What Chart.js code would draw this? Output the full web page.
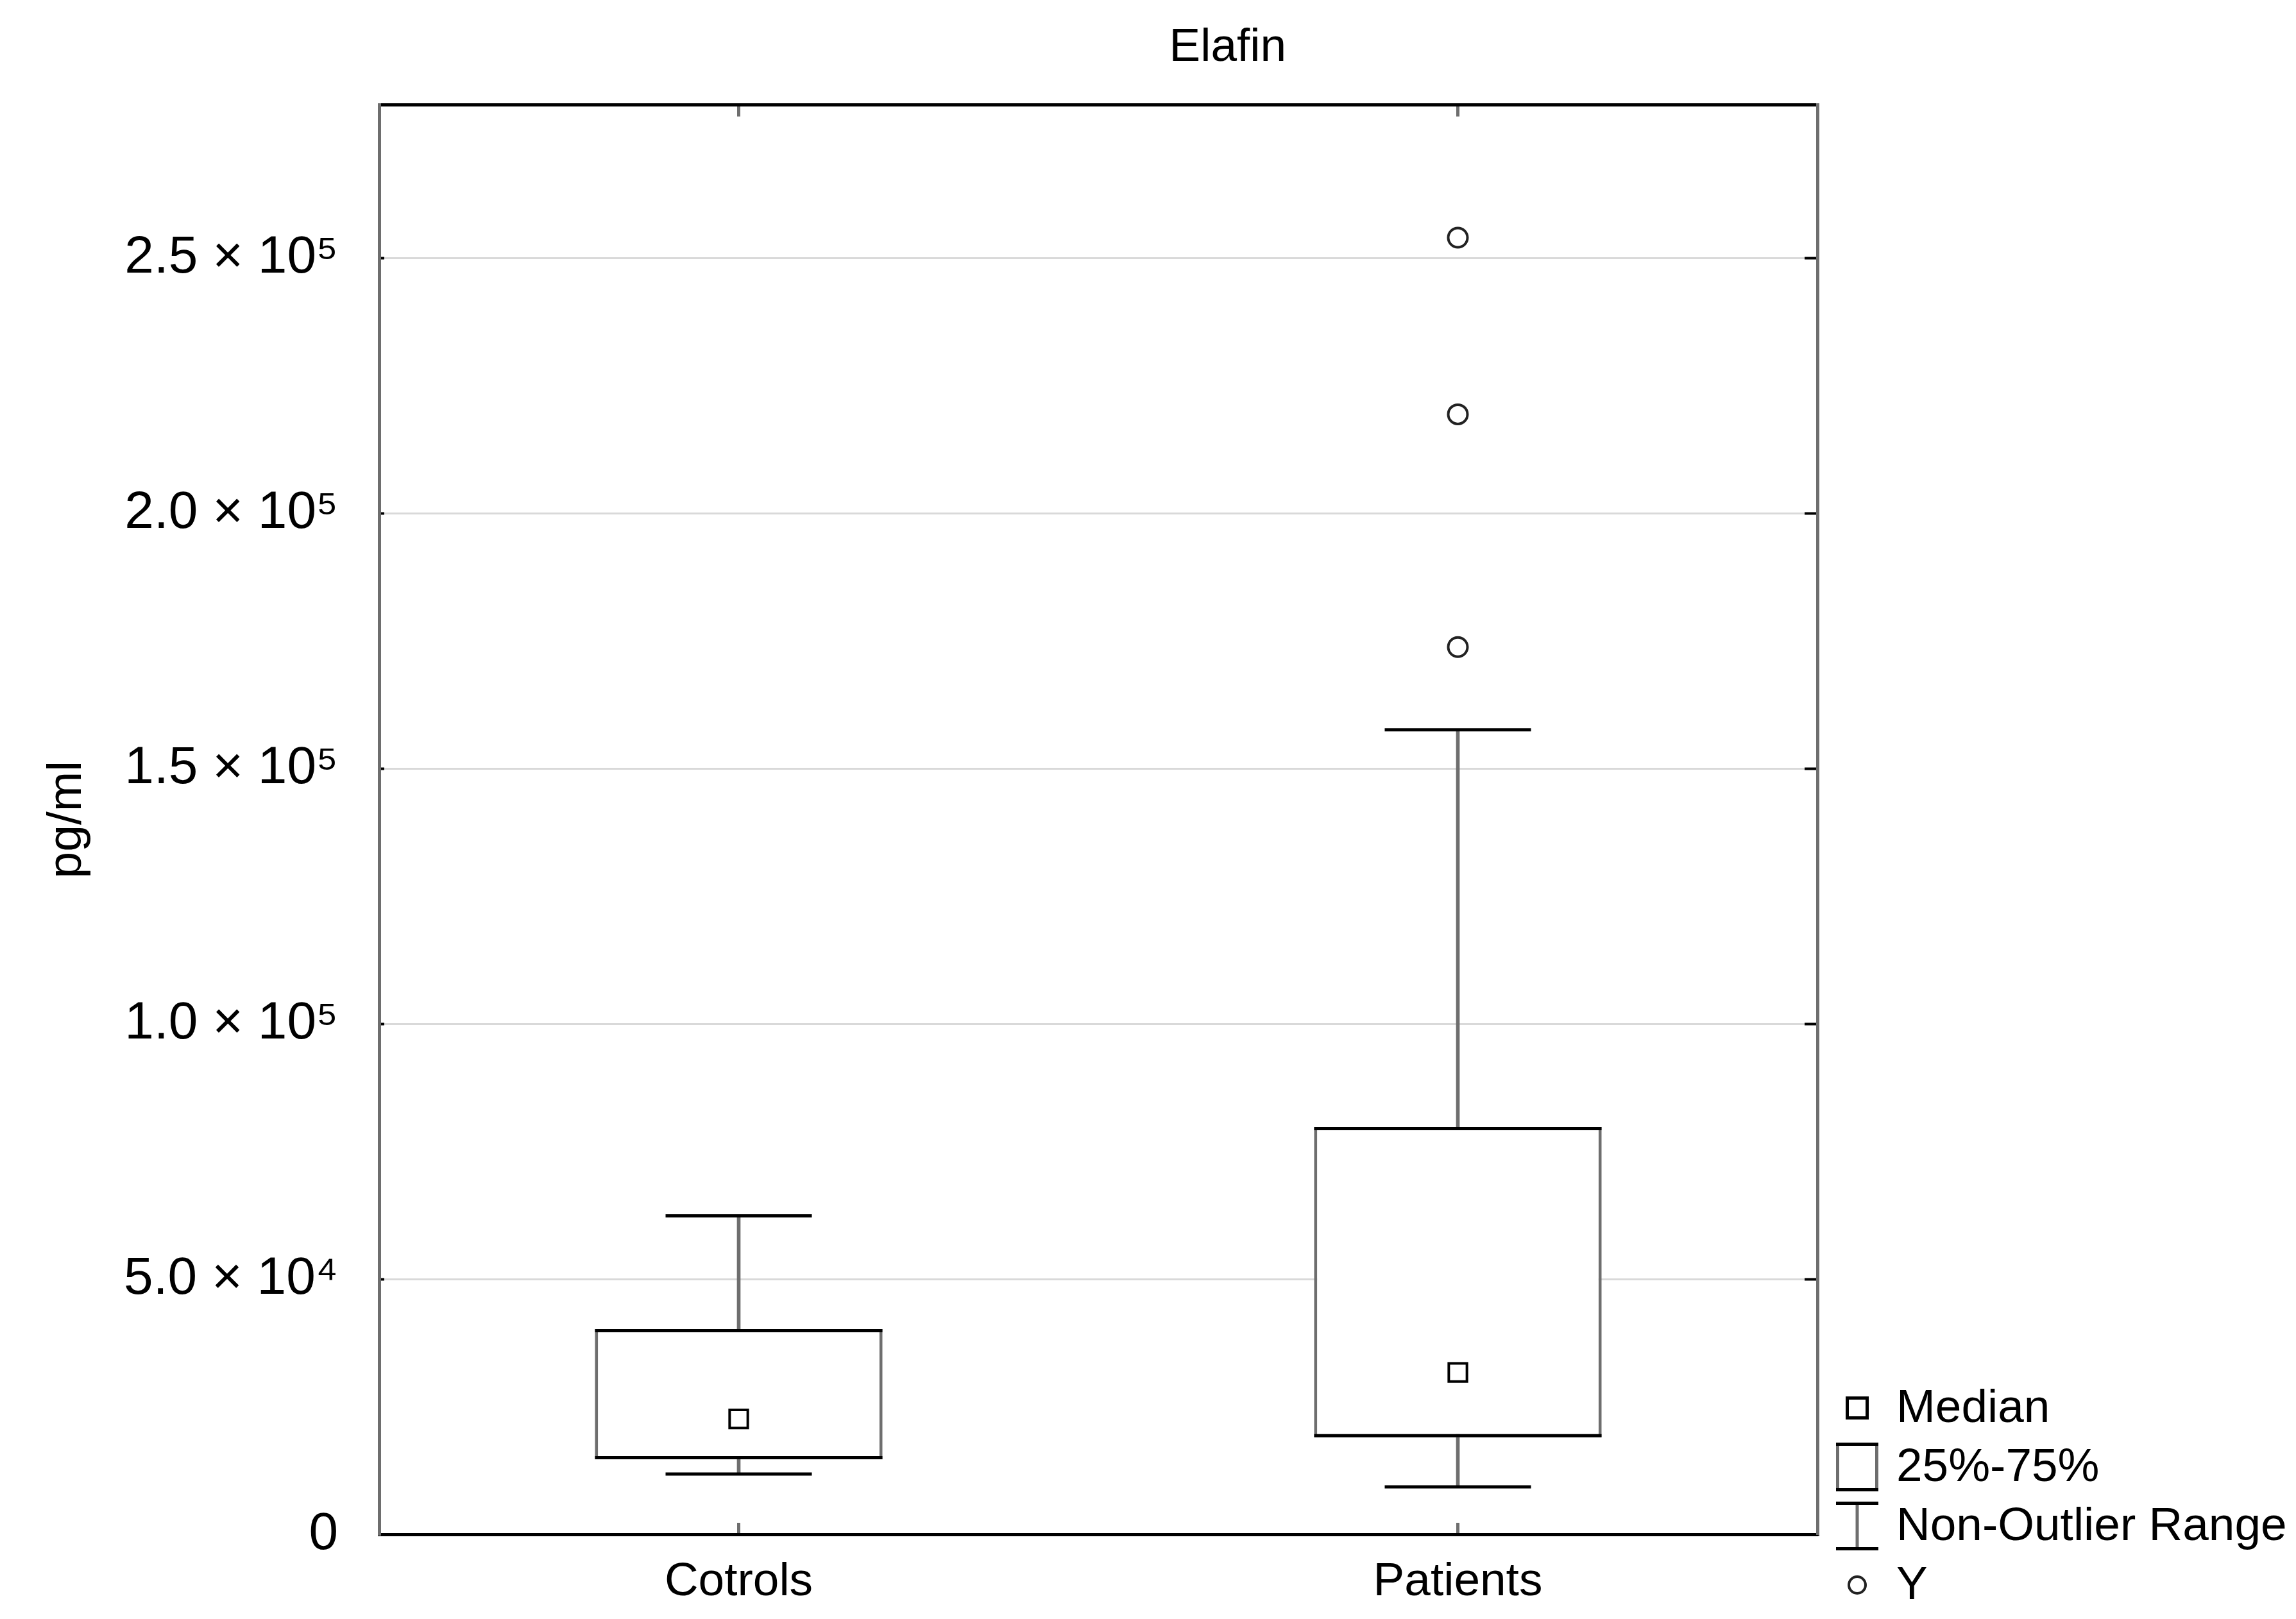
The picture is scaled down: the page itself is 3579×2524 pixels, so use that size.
<!DOCTYPE html>
<html>
<head>
<meta charset="utf-8">
<title>Elafin</title>
<script src="https://cdn.jsdelivr.net/npm/chart.js@4.4.1/dist/chart.umd.min.js"></script>
<style>
  html, body { margin: 0; padding: 0; background: #fff; }
  canvas { display: block; }
</style>
</head>
<body>
<canvas id="chart" width="3579" height="2524"></canvas>
<script>
// values
const categories = ['Cotrols', 'Patients'];
const quartile1 = [14700, 19000];
const quartile3 = [40200, 79800];
const medians = [22600, 31700];
const whiskerLow = [11800, 9300];
const whiskerHigh = [62400, 157600];
const outlierGroup = 'Patients';
const outlierValues = [254000, 219400, 173800];

const yMax = 280000;
const yTickValues = [0, 50000, 100000, 150000, 200000, 250000];
const yTickLabels = ['0', '5.0 × 10⁴', '1.0 × 10⁵', '1.5 × 10⁵', '2.0 × 10⁵', '2.5 × 10⁵'];
const legendNames = ['Median', '25%-75%', 'Non-Outlier Range', 'Y'];

const GREY = '#6e6e6e';
const FONT = '"Liberation Sans", Arial, sans-serif';
Chart.defaults.font.family = FONT;
Chart.defaults.color = '#000';

// little canvases used as legend symbols
function symbol(w, h, draw) {
  const c = document.createElement('canvas');
  c.width = w; c.height = h;
  draw(c.getContext('2d'));
  return c;
}
const legendSymbols = [
  symbol(40, 40, g => { g.lineWidth = 5; g.strokeStyle = '#000'; g.strokeRect(4.5, 4.5, 31, 31); }),
  symbol(70, 80, g => {
    g.lineWidth = 5;
    g.strokeStyle = GREY;
    g.beginPath(); g.moveTo(4.5, 2); g.lineTo(4.5, 78); g.moveTo(65.5, 2); g.lineTo(65.5, 78); g.stroke();
    g.strokeStyle = '#000';
    g.beginPath(); g.moveTo(2, 4.5); g.lineTo(68, 4.5); g.moveTo(2, 75.5); g.lineTo(68, 75.5); g.stroke();
  }),
  symbol(70, 80, g => {
    g.lineWidth = 5;
    g.strokeStyle = GREY;
    g.beginPath(); g.moveTo(35, 4); g.lineTo(35, 76); g.stroke();
    g.strokeStyle = '#000';
    g.beginPath(); g.moveTo(2, 4.5); g.lineTo(68, 4.5); g.moveTo(2, 75.5); g.lineTo(68, 75.5); g.stroke();
  }),
  symbol(40, 40, g => { g.lineWidth = 4; g.strokeStyle = '#222'; g.beginPath(); g.arc(20, 20, 13, 0, Math.PI * 2); g.stroke(); })
];

const boxes = categories.map((c, i) => [quartile1[i], quartile3[i]]);
const stems = categories.map((c, i) => [whiskerLow[i], whiskerHigh[i]]);

// title sits right of the plot centre in the original
const shiftTitle = {
  id: 'shiftTitle',
  afterLayout(chart) {
    const t = chart.titleBlock, a = chart.chartArea;
    const centre = a.left + (a.right - a.left) * 0.59;
    const half = (t.right - t.left) / 2;
    t.left = centre - half;
    t.right = centre + half;
  }
};

// legend stacked in the lower right corner, outside the frame
const sideLegend = {
  id: 'sideLegend',
  afterDraw(chart) {
    const ctx = chart.ctx, a = chart.chartArea;
    ctx.save();
    ctx.font = '73px ' + FONT;
    ctx.fillStyle = '#000';
    ctx.textBaseline = 'middle';
    ctx.textAlign = 'left';
    legendNames.forEach((name, i) => {
      const cy = a.bottom - 197 + i * 92;
      const img = legendSymbols[i];
      ctx.drawImage(img, a.right + 62 - img.width / 2, cy - img.height / 2);
      ctx.fillText(name, a.right + 123, cy + 2);
    });
    ctx.restore();
  }
};

const fixedTicks = s => { s.ticks = yTickValues.map(v => ({ value: v })); };

new Chart(document.getElementById('chart'), {
  type: 'bar',
  data: {
    labels: categories,
    datasets: [
      { // whisker stems, drawn first
        type: 'bar', data: stems, backgroundColor: GREY, borderWidth: 0,
        barThickness: 5, grouped: false, order: 4
      },
      { // box, grey sides
        type: 'bar', data: boxes, backgroundColor: '#fff', borderColor: GREY, borderWidth: 5,
        borderSkipped: false, barPercentage: 0.4, categoryPercentage: 1, grouped: false, order: 3
      },
      { // box, black top and bottom
        type: 'bar', data: boxes, backgroundColor: 'rgba(0,0,0,0)', borderColor: '#000',
        borderWidth: { top: 5, bottom: 5, left: 0, right: 0 },
        borderSkipped: false, barPercentage: 0.4, categoryPercentage: 1, grouped: false, order: 2
      },
      { // whisker caps
        type: 'line', data: whiskerHigh, showLine: false, pointStyle: 'line', pointRadius: 114,
        pointBorderWidth: 5, pointBorderColor: '#000', order: 1
      },
      {
        type: 'line', data: whiskerLow, showLine: false, pointStyle: 'line', pointRadius: 114,
        pointBorderWidth: 5, pointBorderColor: '#000', order: 1
      },
      { // medians
        type: 'line', data: medians, showLine: false, pointStyle: 'rect', pointRadius: 20,
        pointBorderWidth: 4, pointBorderColor: '#000', pointBackgroundColor: '#fff', order: 0
      },
      { // outliers
        type: 'line', data: outlierValues.map(v => ({ x: outlierGroup, y: v })), showLine: false,
        pointStyle: 'circle', pointRadius: 15, pointBorderWidth: 4,
        pointBorderColor: '#222', pointBackgroundColor: '#fff', order: 0
      }
    ]
  },
  options: {
    responsive: false,
    animation: false,
    events: [],
    layout: { padding: { left: 0, right: 728, top: 0, bottom: 0 } },
    plugins: {
      title: {
        display: true, text: 'Elafin', color: '#000',
        font: { size: 73, weight: 'normal' },
        padding: { top: 31, bottom: 45 }
      },
      legend: { display: false },
      tooltip: { enabled: false }
    },
    scales: {
      x: {
        type: 'category', position: 'bottom', offset: true,
        grid: { display: true, drawOnChartArea: false, offset: false, tickLength: -18, tickColor: GREY, tickWidth: 5 },
        border: { display: true, color: '#000', width: 5 },
        ticks: { padding: 49, font: { size: 73 }, color: '#000' },
        afterFit: s => { s.height = 132; }
      },
      x2: {
        type: 'category', position: 'top', offset: true,
        grid: { display: true, drawOnChartArea: false, offset: false, tickLength: -18, tickColor: GREY, tickWidth: 5 },
        border: { display: true, color: '#000', width: 5 },
        ticks: { display: false },
        afterFit: s => { s.height = 0; }
      },
      y: {
        type: 'linear', position: 'left', min: 0, max: yMax,
        afterBuildTicks: fixedTicks,
        grid: { color: '#d9d9d9', lineWidth: 3, tickLength: -8, tickColor: '#000', tickWidth: 4 },
        border: { display: true, color: GREY, width: 5 },
        ticks: { callback: (v, i) => yTickLabels[i], padding: 72, font: { size: 82 }, color: '#000' },
        title: { display: true, text: 'pg/ml', color: '#000', font: { size: 75 }, padding: { top: 60, bottom: 0 } },
        afterFit: s => { s.width = 591; }
      },
      y2: {
        type: 'linear', position: 'right', min: 0, max: yMax,
        afterBuildTicks: fixedTicks,
        grid: { drawOnChartArea: false, tickLength: -20, tickColor: '#000', tickWidth: 4 },
        border: { display: true, color: GREY, width: 5 },
        ticks: { display: false },
        afterFit: s => { s.width = 18; }
      }
    }
  },
  plugins: [shiftTitle, sideLegend]
});
</script>
</body>
</html>
